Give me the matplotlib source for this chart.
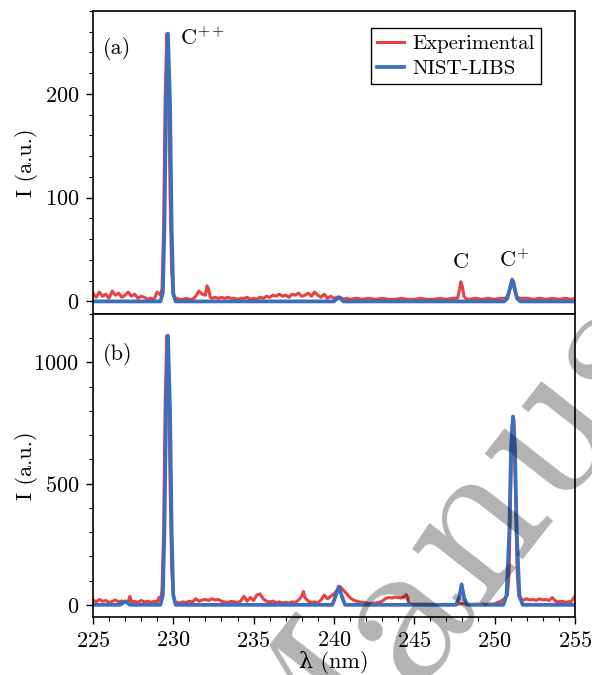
import numpy as np
import matplotlib
matplotlib.use('Agg')
import matplotlib.pyplot as plt

plt.rcParams['font.family'] = 'serif'
plt.rcParams['font.serif'] = ['cmr10']
plt.rcParams['mathtext.fontset'] = 'cm'
plt.rcParams['axes.formatter.use_mathtext'] = True
plt.rcParams['font.size'] = 16

# --- panel (a) ---
exp_a_wl = [225.0, 225.2, 225.4, 225.6, 225.8, 226.0, 226.2, 226.4, 226.6, 226.8,
            227.0, 227.2, 227.4, 227.6, 227.8, 228.0, 228.2, 228.4, 228.6, 228.8,
            229.0, 229.2, 229.3, 229.4, 229.5, 229.6, 229.7, 229.8, 229.9, 230.0,
            230.1, 230.2, 230.4, 230.6, 230.8, 231.0, 231.2, 231.4, 231.6, 231.8,
            232.0, 232.1, 232.2, 232.3, 232.4, 232.6, 232.8, 233.0, 233.2, 233.4,
            233.6, 233.8, 234.0, 234.2, 234.4, 234.6, 234.8, 235.0, 235.2, 235.4,
            235.6, 235.8, 236.0, 236.2, 236.4, 236.6, 236.8, 237.0, 237.2, 237.4,
            237.6, 237.8, 238.0, 238.2, 238.4, 238.6, 238.8, 239.0, 239.2, 239.4,
            239.6, 239.8, 240.0, 240.2, 240.4, 240.6, 240.8, 241.0, 241.4, 241.8,
            242.2, 242.6, 243.0, 243.4, 243.8, 244.2, 244.6, 245.0, 245.4, 245.8,
            246.2, 246.6, 247.0, 247.4, 247.7, 247.8, 247.9, 248.0, 248.1, 248.2,
            248.4, 248.8, 249.2, 249.6, 250.0, 250.4, 250.7, 250.9, 251.0, 251.1,
            251.2, 251.3, 251.4, 251.6, 252.0, 252.4, 252.8, 253.2, 253.6, 254.0,
            254.4, 254.8, 255.0]
exp_a_I = [8, 4, 9, 5, 7, 3, 10, 6, 8, 4,
           6, 9, 5, 7, 3, 5, 4, 2, 3, 2,
           9, 6, 12, 70, 200, 258, 215, 105, 30, 6,
           3, 3, 2, 2, 3, 2, 2, 5, 10, 7,
           6, 15, 12, 4, 3, 4, 3, 4, 3, 4,
           3, 3, 2, 3, 3, 4, 2, 3, 2, 4,
           3, 5, 4, 6, 5, 7, 5, 6, 4, 7,
           6, 8, 5, 6, 8, 5, 9, 6, 4, 7,
           3, 5, 3, 4, 4, 2, 3, 2, 3, 2,
           3, 2, 3, 2, 2, 3, 2, 2, 3, 2,
           2, 3, 2, 3, 3, 10, 19, 14, 5, 3,
           2, 3, 2, 3, 2, 3, 3, 8, 15, 21,
           19, 10, 4, 3, 3, 2, 3, 2, 3, 2,
           3, 2, 3]

nist_a_wl = [225.0, 229.2, 229.35, 229.45, 229.55, 229.67, 229.8, 229.9, 230.0, 230.15,
             240.0, 240.15, 240.3, 240.45, 240.6,
             250.6, 250.8, 250.95, 251.1, 251.25, 251.4, 251.6, 255.0]
nist_a_I = [0, 0, 8, 70, 190, 258, 190, 70, 8, 0,
            0, 2, 4, 2, 0,
            0, 3, 12, 21, 12, 3, 0, 0]

# --- panel (b) ---
exp_b_wl = [225.0, 225.2, 225.4, 225.6, 225.8, 226.0, 226.2, 226.4, 226.6, 226.8,
            227.0, 227.2, 227.3, 227.4, 227.6, 227.8, 228.0, 228.2, 228.4, 228.6,
            228.8, 229.0, 229.1, 229.2, 229.3, 229.4, 229.5, 229.6, 229.7, 229.8,
            229.9, 230.0, 230.1, 230.2, 230.4, 230.6, 230.8, 231.0, 231.2, 231.4,
            231.6, 231.8, 232.0, 232.2, 232.4, 232.6, 232.8, 233.0, 233.2, 233.4,
            233.6, 233.8, 234.0, 234.2, 234.4, 234.6, 234.8, 235.0, 235.2, 235.4,
            235.6, 235.8, 236.0, 236.2, 236.4, 236.6, 236.8, 237.0, 237.2, 237.4,
            237.6, 237.8, 238.0, 238.1, 238.2, 238.4, 238.6, 238.8, 239.0, 239.2,
            239.4, 239.6, 239.8, 240.0, 240.2, 240.4, 240.6, 240.8, 241.0, 241.2,
            241.4, 241.6, 241.8, 242.0, 242.2, 242.4, 242.6, 242.8, 243.0, 243.2,
            243.4, 243.6, 243.8, 244.0, 244.2, 244.4, 244.5, 244.6, 244.65, 244.8,
            245.0, 245.5, 246.0, 246.5, 247.0, 247.5, 248.0, 248.5, 249.0, 249.5,
            250.0, 250.2, 250.4, 250.6, 250.8, 250.9, 251.0, 251.1, 251.2, 251.3,
            251.4, 251.5, 251.6, 251.8, 252.0, 252.2, 252.4, 252.6, 252.8, 253.0,
            253.2, 253.4, 253.6, 253.8, 254.0, 254.2, 254.4, 254.6, 254.8, 255.0]
exp_b_I = [20, 12, 22, 15, 18, 10, 14, 20, 12, 16,
           10, 15, 35, 12, 14, 10, 18, 12, 15, 10,
           14, 12, 30, 20, 60, 300, 850, 1110, 950, 500,
           150, 40, 15, 10, 8, 12, 10, 15, 12, 25,
           15, 20, 22, 18, 25, 20, 22, 15, 12, 10,
           14, 12, 10, 15, 35, 15, 30, 18, 40, 45,
           25, 15, 12, 15, 10, 12, 8, 10, 8, 12,
           10, 20, 35, 55, 30, 15, 10, 12, 8, 20,
           40, 25, 35, 45, 60, 75, 60, 45, 30, 20,
           15, 12, 10, 8, 5, 6, 8, 10, 15, 25,
           30, 28, 32, 30, 28, 35, 42, 30, 5, 3,
           2, 3, 2, 1, 2, 1, 5, 2, 3, 2,
           4, 10, 15, 25, 40, 120, 450, 740, 765, 500,
           150, 40, 25, 20, 25, 20, 22, 18, 25, 20,
           22, 18, 30, 15, 12, 15, 10, 12, 15, 35]

nist_b_wl = [225.0, 226.7, 226.9, 227.0, 227.1, 227.3,
             229.2, 229.35, 229.45, 229.55, 229.67, 229.8, 229.9, 230.0, 230.15,
             239.9, 240.05, 240.3, 240.55, 240.7,
             247.6, 247.8, 247.95, 248.1, 248.3,
             250.55, 250.75, 250.92, 251.03, 251.15, 251.27, 251.38, 251.55, 251.75, 255.0]
nist_b_I = [0, 0, 10, 15, 10, 0,
            0, 40, 300, 800, 1110, 800, 300, 40, 0,
            0, 25, 75, 25, 0,
            0, 30, 85, 30, 0,
            0, 40, 300, 650, 777, 650, 300, 40, 0, 0]

red = '#e8413f'
blue = '#3c6ebe'

fig = plt.figure(figsize=(5.92, 6.75), dpi=100)
ax1 = fig.add_axes([0.157, 0.535, 0.814, 0.449])
ax2 = fig.add_axes([0.157, 0.086, 0.814, 0.449])

for ax in (ax1, ax2):
    ax.set_xlim(225, 255)
    ax.set_xticks([225, 230, 235, 240, 245, 250, 255])
    ax.set_xticks(np.arange(225, 256, 1), minor=True)
    ax.tick_params(which='both', direction='out', top=False, right=False)
    ax.tick_params(which='major', length=5, width=1, pad=5)
    ax.tick_params(which='minor', length=3, width=0.8)
    for s in ax.spines.values():
        s.set_linewidth(1.2)
    ax.set_ylabel('I (a.u.)')

ax1.plot(exp_a_wl, exp_a_I, color=red, lw=2.2, label='Experimental')
ax1.plot(nist_a_wl, nist_a_I, color=blue, lw=2.7, label='NIST-LIBS')
ax1.set_ylim(-12, 280)
ax1.set_yticks([0, 100, 200])
ax1.set_yticks(np.arange(0, 281, 20), minor=True)
ax1.tick_params(axis='x', which='both', bottom=False, labelbottom=False)
ax1.yaxis.set_label_coords(-0.115, 0.5)
leg = ax1.legend(loc='upper right', fancybox=False, edgecolor='black',
                 framealpha=1, handlelength=1.3, handletextpad=0.4,
                 borderpad=0.3, labelspacing=0.3, fontsize=15,
                 bbox_to_anchor=(0.952, 0.976))
leg.get_frame().set_linewidth(1.0)
ax1.text(225.6, 244, '(a)', va='center', ha='left')
ax1.text(230.4, 254, r'C$^{++}$', va='center', ha='left')
ax1.text(247.9, 38, 'C', va='center', ha='center')
ax1.text(251.2, 40, r'C$^{+}$', va='center', ha='center')

ax2.plot(exp_b_wl, exp_b_I, color=red, lw=2.2)
ax2.plot(nist_b_wl, nist_b_I, color=blue, lw=2.7)
ax2.set_ylim(-50, 1200)
ax2.set_yticks([0, 500, 1000])
ax2.set_yticks(np.arange(0, 1201, 100), minor=True)
ax2.yaxis.set_label_coords(-0.115, 0.5)
ax2.set_xlabel('\u03bb (nm)', labelpad=0, family=['cmr10', 'DejaVu Serif'])
ax2.text(225.6, 1033, '(b)', va='center', ha='left')

# watermark
fig.text(0.493, -0.252, 'Manuscript', fontsize=155, rotation=52,
         rotation_mode='anchor', ha='left', va='baseline',
         color='black', alpha=0.3, zorder=10)

fig.savefig('out.png', dpi=100)
